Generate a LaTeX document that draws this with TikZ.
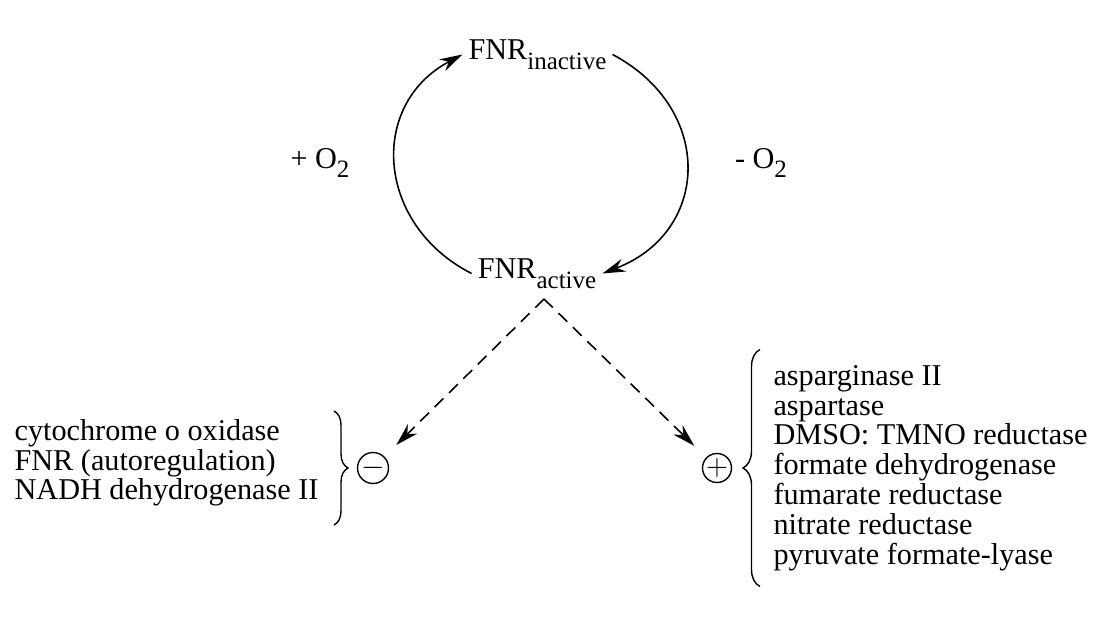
\documentclass[tikz,border=0pt]{standalone}
\usepackage{fontspec}
\setmainfont{Liberation Serif}
\usetikzlibrary{arrows.meta,positioning,decorations.pathreplacing}
\newcommand{\lowsub}[1]{\raisebox{-5.5pt}{\fontsize{14.2}{14}\selectfont #1}}

\begin{document}
\begin{tikzpicture}[
  font=\fontsize{17.2}{16}\selectfont,
  >={Stealth[length=13pt,width=7.5pt]},
  cyc/.style={->, line width=0.9pt},
  effect/.style={->, dash pattern=on 7pt off 4.5pt, line width=0.9pt, shorten >=0.33cm},
  sign/.style={draw, circle, line width=0.8pt, minimum size=0.58cm, inner sep=0pt, font=\fontsize{16}{16}\selectfont},
  genes/.style={align=left, inner sep=0.2cm},
  curly/.style={decorate, decoration={brace, amplitude=0.28cm}, line width=0.8pt}
]
\useasboundingbox (0,0) rectangle (22.16,-12.44);

\node (inactive) at (10.75,-1.09) {FNR\lowsub{inactive}};
\node (active) at (10.74,-5.47) {FNR\lowsub{active}};

\node (plusox) at (6.40,-3.26) {+ O\lowsub{2}};
\node (minusox) at (15.22,-3.26) {- O\lowsub{2}};

\draw[cyc] (active.west) to[out=153, in=-152, looseness=1.25] (inactive.west);
\draw[cyc] (inactive.east) to[out=-28, in=21, looseness=1.35] (active.east);

\coordinate (fork) at (10.88,-5.98);
\node[sign] (minus) at (7.46,-9.36) {$-$};
\node[sign] (plus) at (14.34,-9.36) {$+$};

\draw[effect] (fork) -- (minus);
\draw[effect] (fork) -- (plus);

% repressed genes
\node[genes, left=0.56cm of minus, yshift=0.1cm, font=\fontsize{17.2}{14.8}\selectfont] (repressed)
  {cytochrome o oxidase\\FNR (autoregulation)\\NADH dehydrogenase II};
\draw[curly] ([xshift=-0.78cm, yshift=1.14cm]minus.center) -- ([xshift=-0.78cm, yshift=-1.14cm]minus.center);

% activated genes
\node[genes, right=0.62cm of plus, font=\fontsize{17.2}{17}\selectfont] (activated)
  {asparginase II\\aspartase\\DMSO: TMNO reductase\\formate dehydrogenase\\fumarate reductase\\nitrate reductase\\pyruvate formate-lyase};
\draw[curly, decoration={amplitude=0.34cm}] ([xshift=0.86cm, yshift=-2.37cm]plus.center) -- ([xshift=0.86cm, yshift=2.37cm]plus.center);

\end{tikzpicture}
\end{document}
